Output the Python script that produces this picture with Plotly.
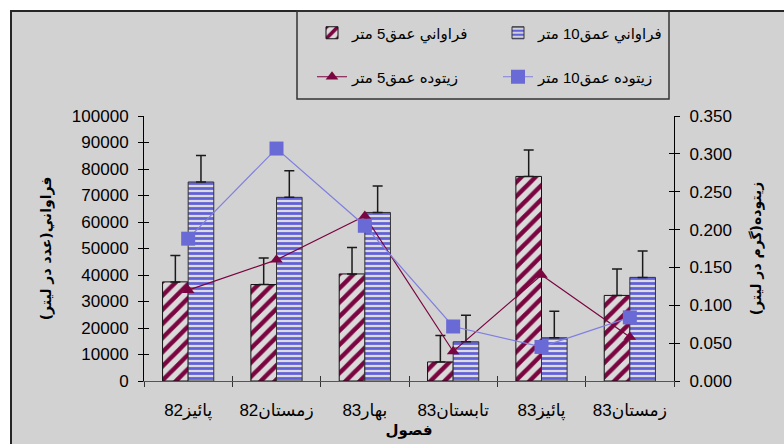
import plotly.graph_objects as go

# Seasons (x categories)
seasons = ["پائيز82", "زمستان82", "بهار83", "تابستان83", "پائيز83", "زمستان83"]

# Abundance (count per litre) at 5 m and 10 m depth
abund_5m = [37400, 36400, 40400, 7200, 77200, 32300]
abund_10m = [75100, 69300, 63600, 14800, 16300, 39100]
abund_err = [10000, 10000, 10000, 10000, 10000, 10000]

# Biomass (g per litre) at 5 m and 10 m depth
biomass_5m = [0.120, 0.160, 0.218, 0.039, 0.140, 0.058]
biomass_10m = [0.188, 0.307, 0.205, 0.072, 0.045, 0.084]

name_a5 = "فراواني عمق5 متر"
name_a10 = "فراواني عمق10 متر"
name_b5 = "زيتوده عمق5 متر"
name_b10 = "زيتوده عمق10 متر"

MAROON = "#7a0540"
BLUE = "#6060d8"
BG = "#d2d2d2"
FONT = "Liberation Sans, Arial, DejaVu Sans, sans-serif"

W, H = 784, 444
ML, MR, MT, MB = 144, 110, 116, 63
PW, PH = W - ML - MR, H - MT - MB


def px_x(px):
    return (px - ML) / PW


def px_y(py):
    return (H - MB - py) / PH


fig = go.Figure()

fig.add_trace(go.Bar(
    x=seasons, y=abund_5m, name=name_a5, legend="legend",
    marker=dict(color=MAROON, line=dict(color="#111111", width=1),
                pattern=dict(shape="/", fgcolor=MAROON, bgcolor="#dadada",
                             size=10, solidity=0.45, fgopacity=1)),
    error_y=dict(type="data", array=abund_err, arrayminus=[0] * 6,
                 symmetric=False, color="#1a1a1a", thickness=1.5, width=5),
))
fig.add_trace(go.Bar(
    x=seasons, y=abund_10m, name=name_a10, legend="legend",
    marker=dict(color=BLUE, line=dict(color="#333333", width=1),
                pattern=dict(shape="-", fgcolor=BLUE, bgcolor="#dcdcdc",
                             size=5, solidity=0.55, fgopacity=1)),
    error_y=dict(type="data", array=abund_err, arrayminus=[0] * 6,
                 symmetric=False, color="#1a1a1a", thickness=1.5, width=5),
))
fig.add_trace(go.Scatter(
    x=seasons, y=biomass_5m, name=name_b5, yaxis="y2", legend="legend2",
    mode="lines+markers",
    line=dict(color=MAROON, width=1.2),
    marker=dict(symbol="triangle-up", size=11, color=MAROON),
))
fig.add_trace(go.Scatter(
    x=seasons, y=biomass_10m, name=name_b10, yaxis="y2", legend="legend2",
    mode="lines+markers",
    line=dict(color="#7f7fe0", width=1.2),
    marker=dict(symbol="square", size=14, color="#6a6ad6"),
))

# helper traces carrying the inward halves of the cross-style tick marks
fig.add_trace(go.Scatter(x=[None], y=[None], xaxis="x2", yaxis="y3",
                         showlegend=False, hoverinfo="skip"))
fig.add_trace(go.Scatter(x=[None], y=[None], xaxis="x2", yaxis="y4",
                         showlegend=False, hoverinfo="skip"))

tickfont = dict(family=FONT, size=17, color="black")
titlefont = dict(family="DejaVu Sans, sans-serif", size=14, color="black",
                 weight="bold")

fig.update_layout(
    width=W, height=H,
    margin=dict(l=ML, r=MR, t=MT, b=MB, pad=0, autoexpand=False),
    paper_bgcolor="white",
    plot_bgcolor="rgba(0,0,0,0)",
    barmode="group", bargap=0.42, bargroupgap=0,
    font=dict(family=FONT, color="black"),
    xaxis=dict(
        type="category", tickson="boundaries", ticks="outside", ticklen=5,
        tickcolor="#333333", showline=True, linecolor="#555555", linewidth=1,
        showgrid=False, tickfont=tickfont, ticklabelstandoff=14,
        automargin=False,
        title=dict(text="فصول", font=dict(family="DejaVu Sans, sans-serif",
                                          size=15, color="black", weight="bold"),
                   standoff=4),
    ),
    xaxis2=dict(
        overlaying="x", range=[-0.5, 5.5], tickvals=[-0.5, 0.5, 1.5, 2.5, 3.5, 4.5, 5.5],
        ticks="inside", ticklen=5, tickcolor="#333333", showticklabels=False,
        showgrid=False, zeroline=False, showline=False, automargin=False,
    ),
    yaxis=dict(
        range=[0, 100000], dtick=10000, tickformat="d", ticks="outside", ticklen=5,
        tickcolor="black", showline=True, linecolor="black", linewidth=1,
        showgrid=False, zeroline=False, tickfont=tickfont, ticklabelstandoff=6,
        automargin=False,
        title=dict(text="فراواني(عدد در ليتر)", font=titlefont, standoff=16),
    ),
    yaxis2=dict(
        range=[0, 0.35], dtick=0.05, tickformat=".3f", overlaying="y",
        side="right", ticks="outside", ticklen=5, tickcolor="black",
        showline=True, linecolor="black", linewidth=1, showgrid=False,
        zeroline=False, tickfont=tickfont, ticklabelstandoff=6,
        automargin=False,
        title=dict(text="زيتوده(گرم در ليتر)", font=titlefont, standoff=20),
    ),
    yaxis3=dict(
        range=[0, 100000], dtick=10000, overlaying="y", side="left",
        anchor="x2", ticks="inside", ticklen=5, tickcolor="black",
        showticklabels=False, showgrid=False, zeroline=False, showline=False,
        automargin=False,
    ),
    yaxis4=dict(
        range=[0, 0.35], dtick=0.05, overlaying="y", side="right",
        anchor="x2", ticks="inside", ticklen=5, tickcolor="black",
        showticklabels=False, showgrid=False, zeroline=False, showline=False,
        automargin=False,
    ),
    legend=dict(
        orientation="h", x=px_x(312), xanchor="left", y=px_y(33),
        yanchor="middle", bgcolor="rgba(0,0,0,0)", borderwidth=0,
        entrywidth=141, entrywidthmode="pixels",
        font=dict(family=FONT, size=15, color="black"), itemclick=False,
    ),
    legend2=dict(
        orientation="h", x=px_x(312), xanchor="left", y=px_y(77),
        yanchor="middle", bgcolor="rgba(0,0,0,0)", borderwidth=0,
        entrywidth=141, entrywidthmode="pixels",
        font=dict(family=FONT, size=15, color="black"), itemclick=False,
    ),
    shapes=[
        # chart area panel with its top/left frame
        dict(type="rect", xref="paper", yref="paper", layer="below",
             x0=px_x(11), x1=px_x(W + 10), y0=px_y(H + 10), y1=px_y(11),
             fillcolor=BG, line=dict(color="#262626", width=2)),
        # legend frame
        dict(type="rect", xref="paper", yref="paper", layer="above",
             x0=px_x(297), x1=px_x(669), y0=px_y(99), y1=px_y(11),
             fillcolor="rgba(0,0,0,0)", line=dict(color="#333333", width=1.5)),
    ],
)

fig.write_html("out.html")
